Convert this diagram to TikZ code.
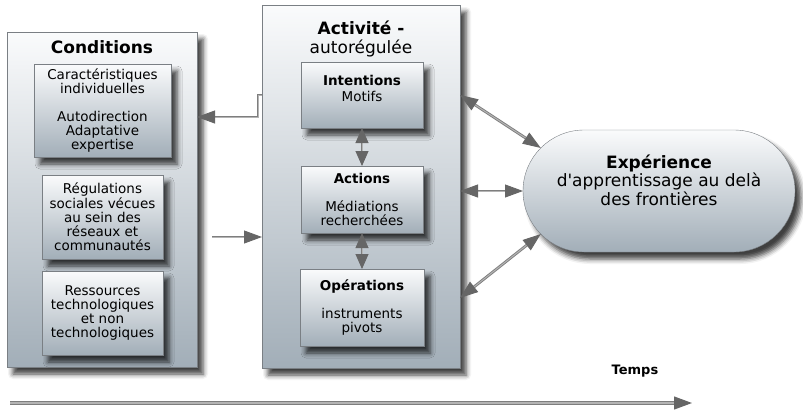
\documentclass[tikz,border=0pt]{standalone}
\usepackage{fontspec}
\setmainfont{DejaVu Sans}
\usetikzlibrary{arrows.meta,positioning,shadows.blur,shapes.misc}
\definecolor{boxtop}{HTML}{FAFBFC}
\definecolor{boxbot}{HTML}{A2AEB8}
\definecolor{edgegray}{HTML}{7A7F84}
\definecolor{linkgray}{HTML}{7E7E7E}
\definecolor{linklight}{HTML}{B4B4B4}
\definecolor{tipgray}{HTML}{666666}
\newcommand{\bodyfont}{\fontsize{13.5}{14.2}\selectfont}
\newcommand{\headfont}{\fontsize{17}{19.5}\selectfont}

\begin{document}
\begin{tikzpicture}[x=1pt,y=-1pt,
  panel/.style={draw=edgegray,top color=boxtop,bottom color=boxbot,inner sep=0pt,outer sep=0pt,
    blur shadow={shadow xshift=6pt,shadow yshift=-7pt,shadow blur radius=5pt,shadow opacity=75}},
  card/.style={panel,align=center,font=\bodyfont},
  link/.style={draw=linkgray,line width=0.9pt,double=linklight,double distance=1pt,
    -{Triangle[length=18pt,width=13pt,color=tipgray]}},
  both/.style={link,{Triangle[length=18pt,width=13pt,color=tipgray]}-{Triangle[length=18pt,width=13pt,color=tipgray]}},
  near/.style={link,{Triangle[length=15pt,width=13pt,color=tipgray]}-{Triangle[length=15pt,width=13pt,color=tipgray]}}]
\useasboundingbox (0,0) rectangle (803,413);
\node[panel,minimum width=190pt,minimum height=335pt] (cond) at (102,199.5) {};
\node[panel,minimum width=198pt,minimum height=363pt] (act) at (361,186.5) {};
\node[font=\headfont\bfseries] (condtitle) at (102,47) {Conditions};
\node[font=\headfont,align=center] (acttitle) at (361,39) {\textbf{Activité -}\\autorégulée};
\node[card,minimum width=137pt,minimum height=93pt] (indiv) at (102.5,110.5) {Caractéristiques\\individuelles\\[14pt]Autodirection\\Adaptative\\expertise};
\node[card,minimum width=121pt,minimum height=84pt] (social) at (102.5,217) {Régulations\\sociales vécues\\au sein des\\réseaux et\\communautés};
\node[card,minimum width=121pt,minimum height=84pt] (ressources) at (102.5,313) {Ressources\\technologiques\\et non\\technologiques};
\node[card,minimum width=122pt,minimum height=66pt,text depth=13pt] (intent) at (362,95) {\textbf{Intentions}\\[1.5pt]Motifs};
\node[card,minimum width=122pt,minimum height=67pt] (action) at (362,199.5) {\textbf{Actions}\\[14pt]Médiations\\recherchées};
\node[card,minimum width=124pt,minimum height=77pt] (oper) at (362,307.5) {\textbf{Opérations}\\[14pt]instruments\\pivots};
\node[panel,rounded rectangle,minimum width=272pt,minimum height=122pt,align=center,
  font=\fontsize{17}{18.5}\selectfont,text depth=22pt] (exp) at (659,191) {\textbf{Expérience}\\d\textquotesingle apprentissage au delà\\des frontières};
\coordinate (bend) at (258,117);
\coordinate (feed) at (212,237);
\coordinate (lowout) at (460,298);
\draw[link] (act.west |- intent) -| (bend) -- (bend -| cond.east);
\draw[link] (feed) -- (feed -| act.west);
\draw[near] (intent.south) -- (action.north);
\draw[near] (action.south) -- (oper.north);
\draw[both] (act.east |- intent) -- (exp.160);
\draw[both] (act.east |- exp) -- (exp.west);
\draw[both] (lowout) -- (exp.200);
\node[font=\fontsize{13}{15}\selectfont\bfseries] (temps) at (635,371) {Temps};
\coordinate (t0) at (10,403);
\coordinate (t1) at (692,403);
\draw[link,line width=1.2pt,double distance=1.6pt] (t0) -- (t1);
\end{tikzpicture}
\end{document}
